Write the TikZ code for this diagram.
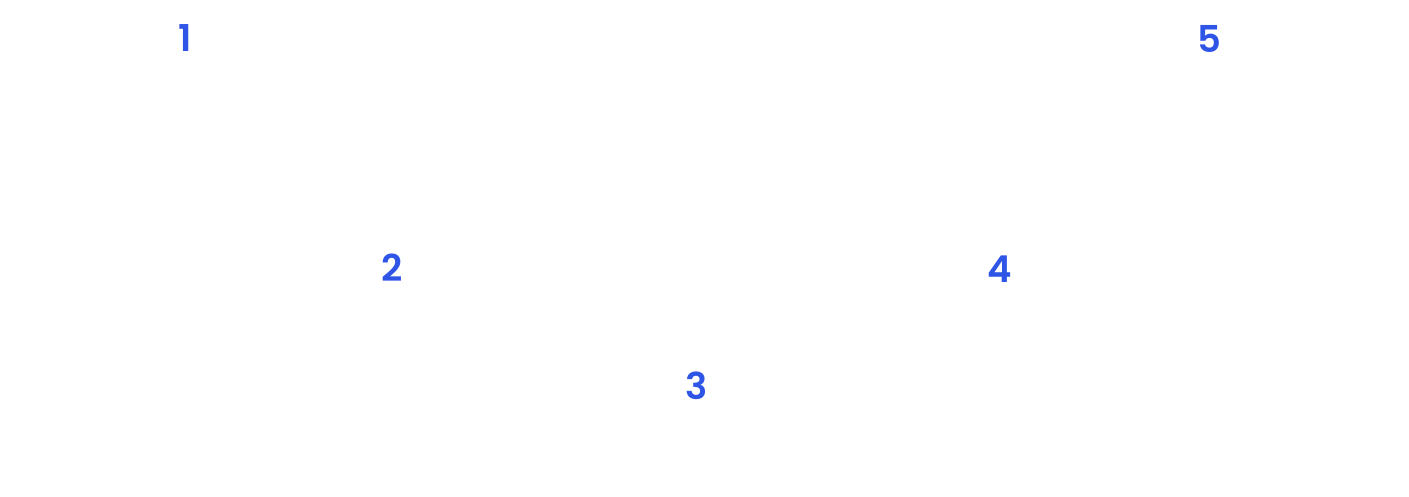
\documentclass[tikz,border=0pt]{standalone}
\usepackage{fontspec}
\setmainfont{Poppins}
\newfontfamily\numfont{Poppins SemiBold}
\definecolor{numblue}{HTML}{2F55E6}
\tikzset{num/.style={text=numblue, font=\fontsize{37}{40}\numfont, inner sep=0pt, anchor=center}}
\begin{document}
\begin{tikzpicture}[x=1pt,y=-1pt]
\useasboundingbox (0,0) rectangle (1409,497);
\node[num] (n1) at (185,38) {1};
\node[num] (n2) at (392,268) {2};
\node[num] (n3) at (697,386) {3};
\node[num] (n4) at (1000,269) {4};
\node[num] (n5) at (1209,39) {5};
\end{tikzpicture}
\end{document}
